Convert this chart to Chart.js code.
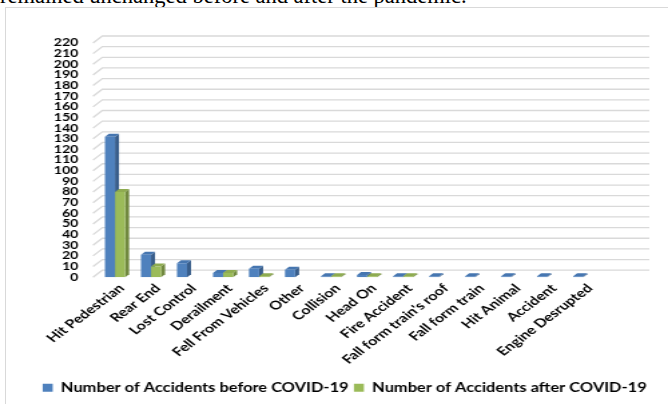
<!DOCTYPE html>
<html>
<head>
<meta charset="utf-8">
<script src="https://cdn.jsdelivr.net/npm/chart.js@4.4.0/dist/chart.umd.min.js"></script>
<style>
  html, body { margin: 0; padding: 0; background: #fff; overflow: hidden; }
  body { width: 668px; height: 404px; position: relative; }
  #caption { position: absolute; left: 0; top: -15px; font: 22.5px 'Liberation Serif', serif; line-height: 22px; white-space: nowrap; color: #000; }
  #frame { position: absolute; left: 5px; top: 7px; width: 700px; height: 440px; border: 1px solid #d9d9d9; }
  #chart { position: absolute; left: 0; top: 0; }
</style>
</head>
<body>
<div id="caption">remained unchanged before and after the pandemic.</div>
<div id="frame"></div>
<!-- drawn 500px wide, stretched to the page width -->
<canvas id="chart" width="500" height="404" style="width:668px;height:404px"></canvas>
<script>
// accident causes on the x axis
var causes = ['Hit Pedestrian', 'Rear End', 'Lost Control', 'Derailment', 'Fell From Vehicles', 'Other',
  'Collision', 'Head On', 'Fire Accident', "Fall form train's roof", 'Fall form train', 'Hit Animal',
  'Accident', 'Engine Desrupted'];
var beforeCovid = [132, 21, 13, 4, 8, 7, 1, 2, 1, 1, 1, 1, 1, 1];
var afterCovid = [80, 10, null, 4, 1, null, 1, 1, 1, null, null, null, null, null];
var seriesNames = ['Number of Accidents before COVID-19', 'Number of Accidents after COVID-19'];
var yMax = 220;
var yStep = 10;

var frontColors = ['#4f81bd', '#9bbb59'];
var sideColors = ['#385d8a', '#71893f'];
var topColors = ['#4676b0', '#8eab50'];

// depth of the fake 3d bars and of the back wall
var barDx = 3, barDy = 3;
var wallDx = 7, wallDy = 7;

// slanted side wall + back wall gridlines
var wallGrid = {
  id: 'wallGrid',
  beforeDatasetsDraw: function(chart) {
    var ctx = chart.ctx
    var area = chart.chartArea
    var y = chart.scales.y
    ctx.save()
    ctx.strokeStyle = '#d9d9d9'
    ctx.lineWidth = 1.3
    y.ticks.forEach(function(t) {
      var py = y.getPixelForValue(t.value)
      ctx.beginPath()
      ctx.moveTo(area.left - 3, py)
      ctx.lineTo(area.left - 3 + wallDx, py - wallDy)
      ctx.lineTo(chart.scales.wall.right - 14, py - wallDy)
      ctx.stroke()
    })
    ctx.restore()
  }
}

// side and top faces, painted before the fronts so each front hides what is behind it
var barFaces = {
  id: 'barFaces',
  beforeDatasetsDraw: function(chart) {
    var ctx = chart.ctx
    ctx.save()
    for (var i = 0; i < causes.length; i++) {
      chart.data.datasets.forEach(function(ds, d) {
        if (ds.data[i] === null) return
        var bar = chart.getDatasetMeta(d).data[i]
        var p = bar.getProps(['x', 'y', 'base', 'width'], true)
        var l = p.x - p.width / 2
        var r = p.x + p.width / 2
        ctx.fillStyle = sideColors[d]
        ctx.beginPath()
        ctx.moveTo(r, p.y)
        ctx.lineTo(r + barDx, p.y - barDy)
        ctx.lineTo(r + barDx, p.base - barDy)
        ctx.lineTo(r, p.base)
        ctx.closePath()
        ctx.fill()
        ctx.fillStyle = topColors[d]
        ctx.beginPath()
        ctx.moveTo(l, p.y)
        ctx.lineTo(l + barDx, p.y - barDy)
        ctx.lineTo(r + barDx, p.y - barDy)
        ctx.lineTo(r, p.y)
        ctx.closePath()
        ctx.fill()
      })
    }
    ctx.restore()
  }
}

var ctx = document.getElementById('chart').getContext('2d');
var chart = new Chart(ctx, {
  type: 'bar',
  data: {
    labels: causes,
    datasets: [{
      label: seriesNames[0],
      data: beforeCovid,
      backgroundColor: frontColors[0]
    }, {
      label: seriesNames[1],
      data: afterCovid,
      backgroundColor: frontColors[1]
    }]
  },
  options: {
    responsive: false,
    animation: false,
    categoryPercentage: 0.56,
    barPercentage: 1.0,
    layout: {
      padding: { top: 43, right: 0, bottom: 0, left: 16 }
    },
    scales: {
      x: {
        grid: { display: false, drawTicks: false },
        border: { display: false },
        ticks: {
          minRotation: 45,
          maxRotation: 45,
          autoSkip: false,
          padding: 4,
          labelOffset: 5,
          color: '#000',
          font: { family: 'Lato', weight: 'bold', size: 12 }
        },
        afterFit: function(scale) { scale.height = 100.5 }
      },
      y: {
        min: 0,
        max: yMax,
        grid: { display: false, drawTicks: false },
        border: { display: false },
        ticks: {
          stepSize: yStep,
          autoSkip: false,
          padding: 14,
          color: '#000',
          font: { family: 'Lato', weight: 'bold', size: 10.5 }
        },
        afterFit: function(scale) { scale.width = 56.6 }
      },
      // empty right box: room for the back wall to run past the last category
      wall: {
        type: 'linear',
        position: 'right',
        grid: { display: false },
        border: { display: false },
        ticks: { display: false },
        afterFit: function(scale) { scale.width = 50 }
      }
    },
    plugins: {
      legend: {
        position: 'bottom',
        labels: {
          boxWidth: 7.5,
          boxHeight: 8,
          padding: 4,
          color: '#000',
          font: { family: 'Lato', weight: 'bold', size: 12.3 },
          sort: function(a, b) { return a.datasetIndex - b.datasetIndex }
        }
      },
      tooltip: { enabled: false }
    }
  },
  plugins: [wallGrid, barFaces]
});
</script>
</body>
</html>
